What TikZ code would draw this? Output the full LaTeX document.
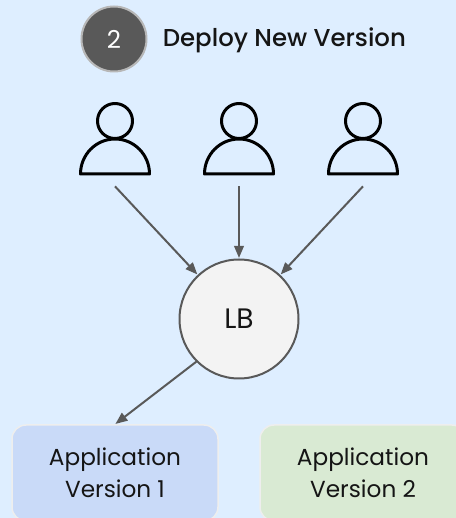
\documentclass[tikz,border=0pt]{standalone}
\usepackage{fontspec}
\setmainfont{Poppins}
\newfontfamily\titlefont{Poppins Medium}
\usetikzlibrary{arrows.meta}
\definecolor{skyback}{RGB}{222, 238, 255}
\definecolor{darkslate}{RGB}{89, 89, 89}
\definecolor{paleslate}{RGB}{183, 183, 183}
\definecolor{lbwhite}{RGB}{243, 243, 243}
\definecolor{edgewhite}{RGB}{238, 238, 238}
\definecolor{versionblue}{RGB}{201, 218, 248}
\definecolor{versiongreen}{RGB}{217, 234, 211}
\definecolor{inkblack}{RGB}{21, 21, 21}
\tikzset{
    badge/.style={circle, draw=paleslate, fill=darkslate, line width=0.04cm, minimum size=1.30cm, inner sep=0pt, text=white, font=\fontsize{14}{16}\selectfont},
    title/.style={anchor=west, inner sep=0pt, text=inkblack, font=\titlefont\fontsize{13.9}{16}\selectfont},
    userspot/.style={minimum width=1.44cm, minimum height=1.64cm, inner sep=0pt},
    userline/.style={black, line width=0.06cm, line join=round},
    balancer/.style={circle, draw=darkslate, fill=lbwhite, line width=0.04cm, minimum size=2.38cm, inner sep=0pt, text=inkblack, font=\fontsize{16}{18}\selectfont},
    appbox/.style={draw=edgewhite, line width=0.03cm, rounded corners=0.28cm, minimum width=4.12cm, minimum height=1.92cm, inner sep=0pt, align=center, text=inkblack, font=\fontsize{13.2}{18}\selectfont},
    flow/.style={darkslate, line width=0.04cm, -{Triangle[length=2.4mm, width=1.9mm]}, shorten >=0.01cm}
}
\begin{document}
\begin{tikzpicture}
    \useasboundingbox (0.00, 0.00) rectangle (9.12, 10.36);
    \fill[skyback] (0.00, 0.00) rectangle (9.12, 10.36);
    % header
    \node[badge] (badgetwo) at (2.28, 9.58) {2};
    \node[title] (headline) at (3.25, 9.55) {Deploy New Version};
    % users
    \draw[userline] (2.30, 7.94) circle (0.35);
    \draw[userline] (1.61, 6.88) arc (180:0:0.69 and 0.70) -- cycle;
    \draw[userline] (4.78, 7.94) circle (0.35);
    \draw[userline] (4.09, 6.88) arc (180:0:0.69 and 0.70) -- cycle;
    \draw[userline] (7.26, 7.94) circle (0.35);
    \draw[userline] (6.57, 6.88) arc (180:0:0.69 and 0.70) -- cycle;
    \node[userspot] (userleft)  at (2.30, 7.46) {};
    \node[userspot] (usermid)   at (4.78, 7.46) {};
    \node[userspot] (userright) at (7.26, 7.46) {};
    % balancer and versions
    \node[balancer] (lb) at (4.78, 3.98) {LB};
    \node[appbox, fill=versionblue]  (versionone) at (2.30, 0.90) {Application\\Version 1};
    \node[appbox, fill=versiongreen] (versiontwo) at (7.26, 0.90) {Application\\Version 2};
    % traffic
    \draw[flow] (userleft.south)  -- (lb);
    \draw[flow] (usermid.south)   -- (lb);
    \draw[flow] (userright.south) -- (lb);
    \draw[flow] (lb.225) -- (versionone.north);
\end{tikzpicture}
\end{document}
